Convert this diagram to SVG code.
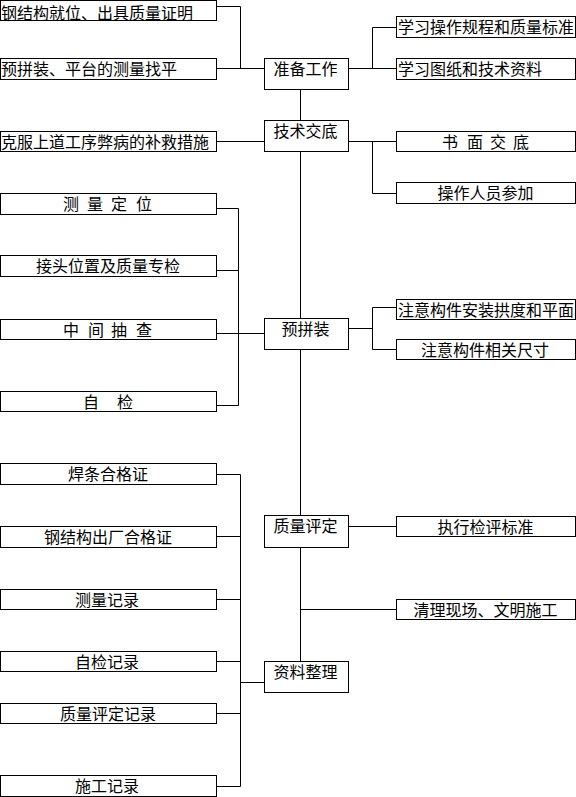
<svg xmlns="http://www.w3.org/2000/svg" width="576" height="797" viewBox="0 0 576 797">
<style>
rect{fill:#fff;stroke:#000;stroke-width:1}
path{fill:none;stroke:#000;stroke-width:1}
text{font-family:"Noto Sans CJK SC","Noto Sans",sans-serif;font-size:16px;fill:#000}
.c{text-anchor:middle}
</style>
<rect width="576" height="797" style="stroke:none"/>
<g id="connectors">
<path d="M216.5 6.5H240.5V68.5M216.5 68.5H264.5"/>
<path d="M216.5 141.5H264.5"/>
<path d="M216.5 208.5H238.5V405.5H216.5M216.5 270.5H238.5M216.5 333.5H264.5"/>
<path d="M216.5 474.5H240.5V786.5H216.5M216.5 536.5H240.5M216.5 599.5H240.5M216.5 661.5H240.5M216.5 713.5H240.5M240.5 682.5H264.5"/>
<path d="M300.5 89.5V120.5M300.5 151.5V318.5M300.5 349.5V515.5M300.5 547.5V661.5"/>
<path d="M348.5 68.5H396.5M372.5 68.5V27.5H396.5"/>
<path d="M348.5 141.5H396.5M372.5 141.5V193.5H396.5"/>
<path d="M348.5 328.5H372.5M372.5 307.5V349.5M372.5 307.5H396.5M372.5 349.5H396.5"/>
<path d="M348.5 526.5H396.5M300.5 609.5H396.5"/>
</g>
<g id="L1"><rect x="0.5" y="0.5" width="216" height="20"/><text x="1" y="18.5">钢结构就位、出具质量证明</text></g>
<g id="L2"><rect x="0.5" y="58.5" width="216" height="21"/><text x="1" y="75">预拼装、平台的测量找平</text></g>
<g id="L3"><rect x="0.5" y="131.5" width="216" height="20"/><text x="1" y="148">克服上道工序弊病的补救措施</text></g>
<g id="L4"><rect x="0.5" y="193.5" width="216" height="21"/><text x="63 79 87 103 111 127 136" y="210">测 量 定 位</text></g>
<g id="L5"><rect x="0.5" y="255.5" width="216" height="21"/><text class="c" x="108" y="272">接头位置及质量专检</text></g>
<g id="L6"><rect x="0.5" y="319.5" width="216" height="20"/><text x="63 79 88 104 111 127 136" y="336">中 间 抽 查</text></g>
<g id="L7"><rect x="0.5" y="391.5" width="216" height="20"/><text x="83 99 117" y="408">自 检</text></g>
<g id="L8"><rect x="0.5" y="463.5" width="216" height="21"/><text class="c" x="108" y="480">焊条合格证</text></g>
<g id="L9"><rect x="0.5" y="526.5" width="216" height="21"/><text class="c" x="108" y="543">钢结构出厂合格证</text></g>
<g id="L10"><rect x="0.5" y="589.5" width="216" height="20"/><text class="c" x="107" y="606">测量记录</text></g>
<g id="L11"><rect x="0.5" y="651.5" width="216" height="20"/><text class="c" x="107" y="668">自检记录</text></g>
<g id="L12"><rect x="0.5" y="703.5" width="216" height="20"/><text class="c" x="108" y="720">质量评定记录</text></g>
<g id="L13"><rect x="0.5" y="775.5" width="216" height="21"/><text class="c" x="107" y="792">施工记录</text></g>
<g id="C1"><rect x="264.5" y="58.5" width="84" height="31"/><text class="c" x="305.5" y="75">准备工作</text></g>
<g id="C2"><rect x="264.5" y="120.5" width="84" height="31"/><text class="c" x="305.5" y="137">技术交底</text></g>
<g id="C3"><rect x="264.5" y="318.5" width="84" height="31"/><text class="c" x="305.5" y="335">预拼装</text></g>
<g id="C4"><rect x="264.5" y="515.5" width="84" height="32"/><text class="c" x="305.5" y="532">质量评定</text></g>
<g id="C5"><rect x="264.5" y="661.5" width="84" height="31"/><text class="c" x="305.5" y="678">资料整理</text></g>
<g id="R1"><rect x="396.5" y="16.5" width="179" height="21"/><text x="398" y="33">学习操作规程和质量标准</text></g>
<g id="R2"><rect x="396.5" y="58.5" width="179" height="21"/><text x="398" y="75">学习图纸和技术资料</text></g>
<g id="R3"><rect x="396.5" y="131.5" width="179" height="20"/><text x="442 458 467 483 490 506 513" y="148">书 面 交 底</text></g>
<g id="R4"><rect x="396.5" y="182.5" width="179" height="21"/><text class="c" x="485.5" y="199">操作人员参加</text></g>
<g id="R5"><rect x="396.5" y="299.5" width="179" height="20"/><text x="398" y="316">注意构件安装拱度和平面</text></g>
<g id="R6"><rect x="396.5" y="339.5" width="179" height="20"/><text class="c" x="485" y="356">注意构件相关尺寸</text></g>
<g id="R7"><rect x="396.5" y="516.5" width="179" height="20"/><text class="c" x="485.5" y="533">执行检评标准</text></g>
<g id="R8"><rect x="396.5" y="599.5" width="179" height="20"/><text class="c" x="485.5" y="616">清理现场、文明施工</text></g>
</svg>
